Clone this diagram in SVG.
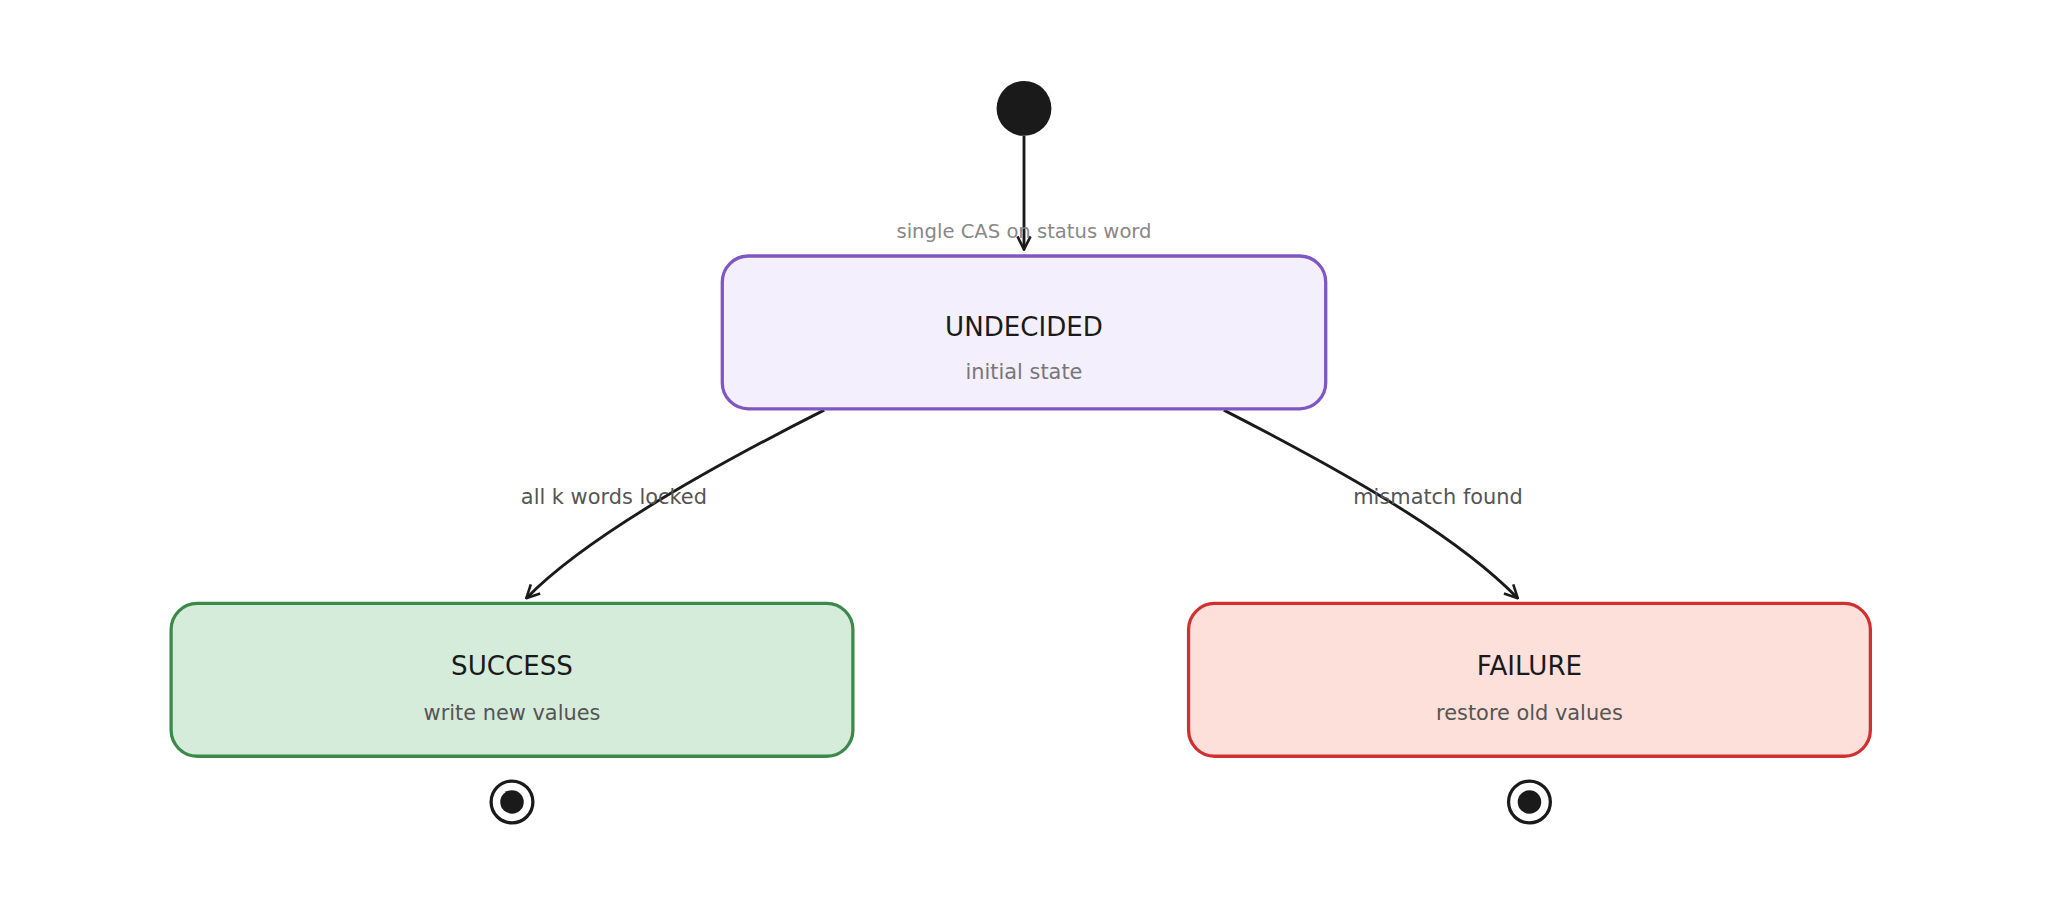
<svg xmlns="http://www.w3.org/2000/svg" width="2048" height="910" viewBox="0 0 2048 910">
<style>
text{font-family:"DejaVu Sans",sans-serif;text-anchor:middle}
.t{font-size:20px;fill:#1a1a1a}
.s{font-size:16px;fill:#555}
.e{fill:none;stroke:#1a1a1a;stroke-width:2.2}
.l{font-size:16px;fill:#555}
</style>
<defs>
<marker id="a" viewBox="0 0 12 12" refX="11" refY="6" markerWidth="12" markerHeight="12" markerUnits="userSpaceOnUse" orient="auto">
<path d="M1,1 L11,6 L1,11" fill="none" stroke="#1a1a1a" stroke-width="2"/>
</marker>
</defs>
<rect width="2048" height="910" fill="#fff"/>
<g transform="scale(1.30612)">
<g id="start"><circle cx="784" cy="83" r="21" fill="#1a1a1a"/></g>
<g id="connectors">
<path class="e" d="M784,104 L784,191" marker-end="url(#a)"/>
<path class="e" d="M631,314 C520,370 440,420 403,458" marker-end="url(#a)"/>
<path class="e" d="M937,314 C1050,372 1120,415 1162,458" marker-end="url(#a)"/>
<text x="784" y="182" style="font-size:15px;fill:#888">single CAS on status word</text>
<text class="l" x="470" y="386">all k words locked</text>
<text class="l" x="1101" y="386">mismatch found</text>
</g>
<g id="undecided">
<rect x="553" y="196" width="462" height="117" rx="20" fill="#f3effd" stroke="#7e57c2" stroke-width="2.5"/>
<text class="t" x="784" y="257">UNDECIDED</text>
<text class="s" x="784" y="290" style="fill:#777">initial state</text>
</g>
<g id="success">
<rect x="131" y="462" width="522" height="117" rx="20" fill="#d5ecdb" stroke="#3b8a4a" stroke-width="2.5"/>
<text class="t" x="392" y="517">SUCCESS</text>
<text class="s" x="392" y="551">write new values</text>
</g>
<g id="failure">
<rect x="910" y="462" width="522" height="117" rx="20" fill="#fde0da" stroke="#d03030" stroke-width="2.5"/>
<text class="t" x="1171" y="517">FAILURE</text>
<text class="s" x="1171" y="551">restore old values</text>
</g>
<g id="end1"><circle cx="392" cy="614" r="16" fill="#fff" stroke="#1a1a1a" stroke-width="2.5"/><circle cx="392" cy="614" r="9" fill="#1a1a1a"/></g>
<g id="end2"><circle cx="1171" cy="614" r="16" fill="#fff" stroke="#1a1a1a" stroke-width="2.5"/><circle cx="1171" cy="614" r="9" fill="#1a1a1a"/></g>
</g>
</svg>
